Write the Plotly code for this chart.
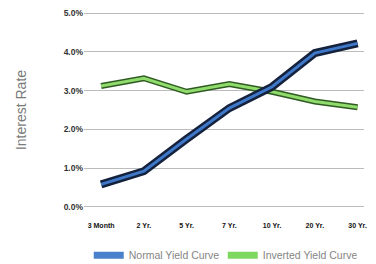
import plotly.graph_objects as go

maturities = ["3 Month", "2 Yr.", "5 Yr.", "7 Yr.", "10 Yr.", "20 Yr.", "30 Yr."]
normal_yield = [0.58, 0.92, 1.75, 2.55, 3.1, 3.97, 4.22]
inverted_yield = [3.12, 3.32, 2.97, 3.17, 2.97, 2.72, 2.57]
y_ticks = [0, 1, 2, 3, 4, 5]
y_tick_labels = ["0.0%", "1.0%", "2.0%", "3.0%", "4.0%", "5.0%"]

fig = go.Figure()

# inverted curve: dark outline + light green core
fig.add_trace(go.Scatter(x=maturities, y=inverted_yield, mode="lines",
                         line=dict(color="#2f5a22", width=6), showlegend=False, hoverinfo="skip"))
fig.add_trace(go.Scatter(x=maturities, y=inverted_yield, mode="lines",
                         line=dict(color="#8fdc6c", width=3), showlegend=False, hoverinfo="skip"))
# normal curve: dark navy outline + blue core
fig.add_trace(go.Scatter(x=maturities, y=normal_yield, mode="lines",
                         line=dict(color="#14223d", width=8), showlegend=False, hoverinfo="skip"))
fig.add_trace(go.Scatter(x=maturities, y=normal_yield, mode="lines",
                         line=dict(color="#3f78c8", width=3), showlegend=False, hoverinfo="skip"))

# legend entries
fig.add_trace(go.Scatter(x=[None], y=[None], mode="lines", name="Normal Yield Curve",
                         line=dict(color="#4a7fcc", width=7)))
fig.add_trace(go.Scatter(x=[None], y=[None], mode="lines", name="Inverted Yield Curve",
                         line=dict(color="#7ed860", width=7)))

fig.update_layout(
    width=376, height=264,
    margin=dict(l=84, r=12, t=12, b=56, autoexpand=False),
    paper_bgcolor="white", plot_bgcolor="white",
    font=dict(family="Liberation Sans, Arial, sans-serif"),
    showlegend=True,
    legend=dict(orientation="h", xref="container", yref="container",
                x=0.236, xanchor="left", y=0.033, yanchor="middle",
                font=dict(size=10.5, color="#858585"), itemwidth=30,
                entrywidth=89, entrywidthmode="pixels",
                bgcolor="rgba(0,0,0,0)", tracegroupgap=0),
    xaxis=dict(type="category", range=[-0.4, 6.15], showgrid=False, zeroline=False,
               showline=False, ticks="", automargin=False,
               tickfont=dict(size=7, color="#111111", weight="bold"),
               ticklabelstandoff=12),
    yaxis=dict(range=[-0.03, 5.03], tickvals=y_ticks, ticktext=y_tick_labels,
               showgrid=True, gridcolor="#bcbcbc", gridwidth=1, zeroline=False,
               showline=False, automargin=False,
               tickfont=dict(size=8.5, color="#333333", weight="bold"),
               title=dict(text="Interest Rate", font=dict(size=14, color="#7a7a7a"), standoff=33)),
)

fig.write_html("out.html", config={"displayModeBar": False},
               post_script="document.body.style.margin='0';document.body.style.overflow='hidden';")
